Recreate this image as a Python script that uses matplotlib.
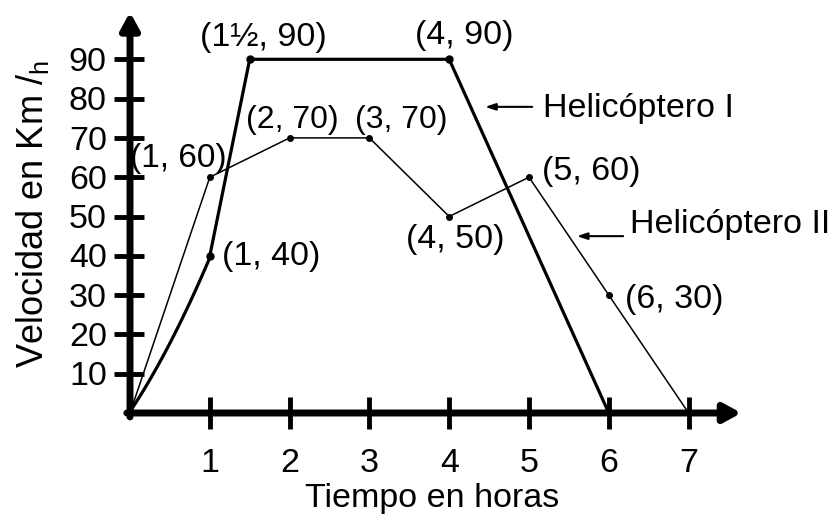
import numpy as np
import matplotlib
matplotlib.use("Agg")
import matplotlib.pyplot as plt

plt.rcParams['font.family'] = ['Liberation Sans', 'DejaVu Sans']

# Helicóptero I: curved climb, then straight segments
h1_curve_x = [0, 0.27, 0.56, 0.81, 1]
h1_curve_y = [0, 10, 20, 30, 40]
h1_line_x = [1, 1.5, 4, 6]
h1_line_y = [40, 90, 90, 0]
h1_dots_x = [1, 1.5, 4]
h1_dots_y = [40, 90, 90]

# Helicóptero II
h2_x = [0, 1, 2, 3, 4, 5, 6, 7]
h2_y = [0, 60, 70, 70, 50, 60, 30, 0]
h2_dots_x = [1, 2, 3, 4, 5, 6]
h2_dots_y = [60, 70, 70, 50, 60, 30]

x_ticks = [1, 2, 3, 4, 5, 6, 7]
y_ticks = [10, 20, 30, 40, 50, 60, 70, 80, 90]

point_labels = ["(1½, 90)", "(4, 90)", "(2, 70)", "(3, 70)", "(1, 60)",
                "(1, 40)", "(4, 50)", "(5, 60)", "(6, 30)"]
label_pos = [(1.67, 93.5), (4.19, 93.8), (2.04, 72.5), (3.4, 72.5), (0.6, 62.6),
             (1.77, 37.7), (4.07, 42), (5.78, 59.3), (6.82, 26.7)]
label_fs = [24.5, 24.5, 23, 23, 24, 24.5, 24.5, 24.5, 24.5]

fig = plt.figure(figsize=(8.31, 5.16), dpi=100)
ax = fig.add_axes([0, 0, 1, 1])
# pixel mapping: x=0 at px 130, 79.8 px per hour; y=0 at py 413, 3.93 px per unit
ax.set_xlim((0 - 130) / 79.8, (831 - 130) / 79.8)
ax.set_ylim((413 - 516) / 3.93, 413 / 3.93)
ax.axis('off')

fs = 24.5

# axes with arrows
ax.annotate('', xy=(7.66, 0), xytext=(-0.04, 0),
            arrowprops=dict(arrowstyle='-|>,head_length=1.0,head_width=0.55',
                            lw=5, color='black', shrinkA=0, shrinkB=0))
ax.annotate('', xy=(0, 102), xytext=(0, -1),
            arrowprops=dict(arrowstyle='-|>,head_length=1.0,head_width=0.55',
                            lw=5, color='black', shrinkA=0, shrinkB=0))
for t in x_ticks:
    ax.plot([t, t], [-4, 4], color='black', lw=3.5, solid_capstyle='butt')
    ax.text(t, -15, str(t), ha='center', va='baseline', fontsize=fs)
for t in y_ticks:
    ax.plot([-0.2, 0.17], [t, t], color='black', lw=3.5, solid_capstyle='butt')
    ax.text(-0.29, t - 0.8, str(t), ha='right', va='center', fontsize=fs)

# Helicóptero I
coef = np.polyfit(h1_curve_x, h1_curve_y, 2)
xs = np.linspace(h1_curve_x[0], h1_curve_x[-1], 100)
ax.plot(xs, np.polyval(coef, xs), color='black', lw=2.3)
ax.plot(h1_line_x, h1_line_y, color='black', lw=2.3)
ax.plot(h1_dots_x, h1_dots_y, 'o', color='black', ms=5)

# Helicóptero II
ax.plot(h2_x, h2_y, color='black', lw=1.1)
ax.plot(h2_dots_x, h2_dots_y, 'o', color='black', ms=4)

for s, (px, py), f in zip(point_labels, label_pos, label_fs):
    ax.text(px, py, s, ha='center', va='baseline', fontsize=f)

# series labels with arrows
ax.annotate('', xy=(4.45, 77.9), xytext=(5.04, 77.9),
            arrowprops=dict(arrowstyle='-|>,head_length=0.6,head_width=0.2',
                            lw=1.5, color='black', shrinkA=0, shrinkB=0))
ax.text(5.175, 75.3, 'Helicóptero I', ha='left', va='baseline', fontsize=fs)
ax.annotate('', xy=(5.6, 45), xytext=(6.18, 45),
            arrowprops=dict(arrowstyle='-|>,head_length=0.6,head_width=0.2',
                            lw=1.5, color='black', shrinkA=0, shrinkB=0))
ax.text(6.27, 45.8, 'Helicóptero II', ha='left', va='baseline', fontsize=fs)

ax.text(3.78, -23.9, 'Tiempo en horas', ha='center', va='baseline', fontsize=fs)
ax.text(-1.22, 50.6, r'Velocidad en Km $\mathregular{/_{h}}$', rotation=90,
        ha='center', va='center', fontsize=26)

fig.savefig('out.png', dpi=100)
